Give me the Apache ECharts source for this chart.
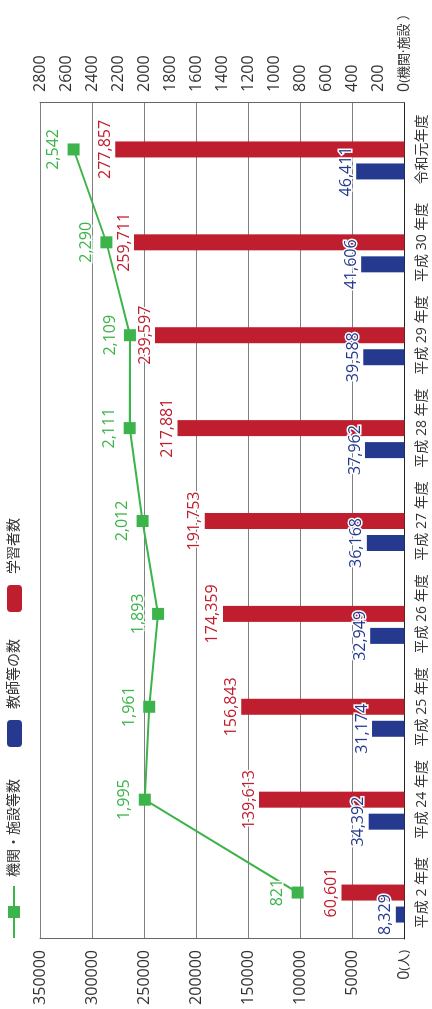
<!DOCTYPE html>
<html>
<head>
<meta charset="utf-8">
<script src="https://cdn.jsdelivr.net/npm/echarts@6/dist/echarts.min.js"></script>
<style>
  html, body { margin: 0; padding: 0; background: #fff; overflow: hidden; }
  body { width: 432px; height: 1009px; position: relative; }
  /* the chart is laid out landscape and turned a quarter turn counter-clockwise */
  #chart {
    position: absolute; left: 0; top: 0;
    width: 1009px; height: 432px;
    transform-origin: 0 0;
    transform: translateY(1009px) rotate(-90deg);
  }
</style>
</head>
<body>
<div id="chart"></div>
<script>
const categories = ['平成 2 年度', '平成 24 年度', '平成 25 年度', '平成 26 年度', '平成 27 年度',
                    '平成 28 年度', '平成 29 年度', '平成 30 年度', '令和元年度'];
const learners = [60601, 139613, 156843, 174359, 191753, 217881, 239597, 259711, 277857];
const teachers = [8329, 34392, 31174, 32949, 36168, 37962, 39588, 41606, 46411];
const institutions = [821, 1995, 1961, 1893, 2012, 2111, 2109, 2290, 2542];
const peopleTicks = [0, 50000, 100000, 150000, 200000, 250000, 300000, 350000];
const instTicks = [0, 200, 400, 600, 800, 1000, 1200, 1400, 1600, 1800, 2000, 2200, 2400, 2600, 2800];

const RED = '#be1e2d', BLUE = '#253a8f', GREEN = '#3cb44b';
const FONT = '"Open Sans", "Noto Sans CJK JP", sans-serif';
const fmt = v => Number(v).toLocaleString('en-US');
// unit suffix shown next to the zero tick, set slightly smaller than the digits
const unitRich = { u: { fontSize: 13, color: '#333', fontFamily: FONT } };

const chart = echarts.init(document.getElementById('chart'));
chart.setOption({
  animation: false,
  textStyle: { fontFamily: FONT },
  grid: { left: 70, right: 103, top: 40, bottom: 27.5, outerBoundsMode: 'none', containLabel: false },
  legend: [
    {
      data: ['機関・施設等数'], left: 70, top: 7, padding: 0,
      itemWidth: 52, itemHeight: 15,
      textStyle: { fontSize: 14, color: '#333', padding: [0, 0, 0, 4] }
    },
    {
      data: ['教師等の数', '学習者数'], left: 262, top: 7, padding: 0,
      itemWidth: 27, itemHeight: 15, itemGap: 27,
      textStyle: { fontSize: 14, color: '#333', padding: [0, 0, 0, 6] }
    }
  ],
  xAxis: {
    type: 'category', data: categories,
    axisLine: { lineStyle: { color: '#222', width: 1 } },
    axisTick: { show: false },
    axisLabel: { fontSize: 14, color: '#333', margin: 11, interval: 0, hideOverlap: false }
  },
  yAxis: [
    {
      type: 'value', min: peopleTicks[0], max: peopleTicks[peopleTicks.length - 1], interval: 50000,
      axisLine: { show: true, lineStyle: { color: '#666' } },
      axisTick: { show: false },
      splitLine: { lineStyle: { color: '#808080', width: 1 } },
      axisLabel: { fontSize: 16, color: '#333', margin: 11, rich: unitRich,
        formatter: v => v === 0 ? '0{u|(人)}' : String(v) }
    },
    {
      type: 'value', min: instTicks[0], max: instTicks[instTicks.length - 1], interval: 200,
      position: 'right',
      axisLine: { show: true, lineStyle: { color: '#666' } },
      axisTick: { show: false },
      splitLine: { show: false },
      axisLabel: { fontSize: 16, color: '#333', margin: 11, rich: unitRich,
        formatter: v => v === 0 ? '0{u|(機関·施設 ）}' : String(v) }
    }
  ],
  series: [
    {
      name: '教師等の数', type: 'bar', data: teachers,
      barWidth: 16, barGap: '37.5%',
      itemStyle: { color: BLUE },
      label: { show: true, position: 'top', distance: 2, color: BLUE, fontSize: 16,
        textBorderColor: '#fff', textBorderWidth: 3, formatter: p => fmt(p.value) },
      z: 3
    },
    {
      name: '学習者数', type: 'bar', data: learners,
      barWidth: 16,
      itemStyle: { color: RED },
      label: { show: true, position: 'top', distance: 2, color: RED, fontSize: 16,
        textBorderColor: '#fff', textBorderWidth: 3, formatter: p => fmt(p.value) },
      z: 2
    },
    {
      // empty slot that keeps the red bar centred on each category
      name: 'spacer', type: 'bar', data: [], barWidth: 16
    },
    {
      name: '機関・施設等数', type: 'line', yAxisIndex: 1, data: institutions,
      symbol: 'rect', symbolSize: 12,
      lineStyle: { color: GREEN, width: 2 },
      itemStyle: { color: GREEN },
      label: { show: true, position: 'top', distance: 6, color: GREEN, fontSize: 16,
        textBorderColor: '#fff', textBorderWidth: 3, formatter: p => fmt(p.value) },
      z: 4
    }
  ]
});
</script>
</body>
</html>
